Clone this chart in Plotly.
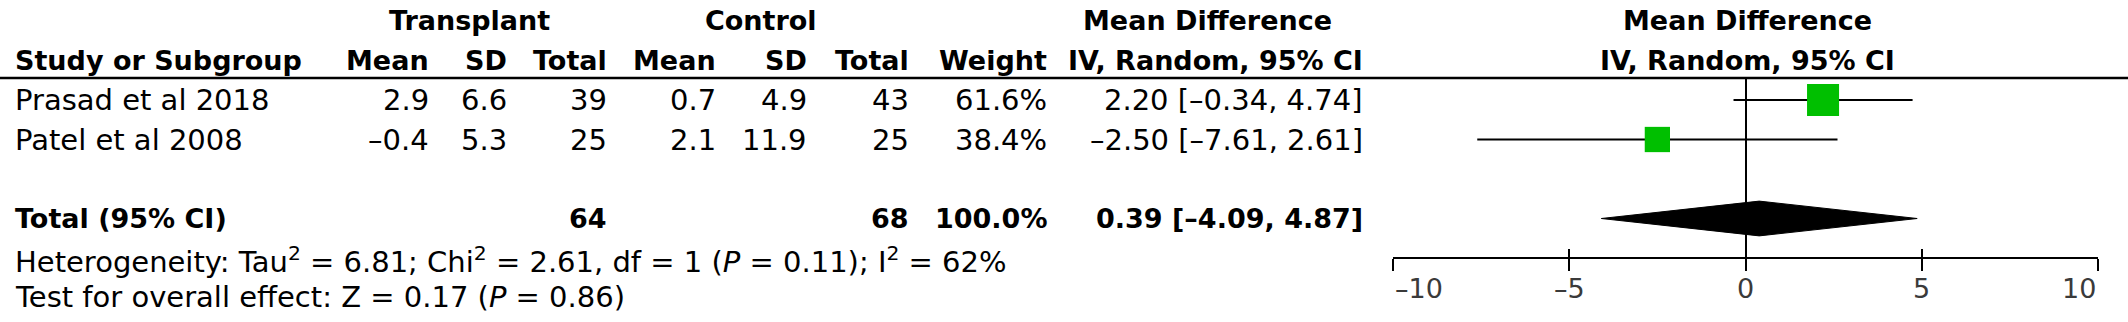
import math
import plotly.graph_objects as go

# ---- study data -------------------------------------------------------
studies = ["Prasad et al 2018", "Patel et al 2008"]
tx_mean = [2.9, -0.4]
tx_sd = [6.6, 5.3]
tx_n = [39, 25]
ct_mean = [0.7, 2.1]
ct_sd = [4.9, 11.9]
ct_n = [43, 25]
weight = [61.6, 38.4]
md = [2.20, -2.50]
ci_low = [-0.34, -7.61]
ci_high = [4.74, 2.61]

# ---- pooled result ----------------------------------------------------
total_label = "Total (95% CI)"
total_tx_n = 64
total_ct_n = 68
total_weight = 100.0
total_md = 0.39
total_low = -4.09
total_high = 4.87
heterogeneity = ("Heterogeneity: Tau<sup>2</sup> = 6.81; Chi<sup>2</sup> = 2.61, "
                 "df = 1 (<i>P</i> = 0.11); I<sup>2</sup> = 62%")
overall_effect = "Test for overall effect: Z = 0.17 (<i>P</i> = 0.86)"

axis_ticks = [-10, -5, 0, 5, 10]

# ---- geometry ----------------------------------------------------------
W, H = 2128, 322
ROW_PX = 39.5          # pixel height of one table row
ROW0_PX = 100          # pixel y of the first study row
AXIS_PX = 257          # pixel y of the forest-plot axis
RULE_PX = 78           # pixel y of the header rule
FONT = "DejaVu Sans"
FS = 29                # regular text
FS_B = 27              # bold text
FS_T = 27              # axis tick labels


def row_at(px):
    return (px - ROW0_PX) / ROW_PX


def fmt(v, d):
    return f"{v:.{d}f}".replace("-", "\u2013")


def ci_text(m, lo, hi):
    return f"{fmt(m, 2)} [{fmt(lo, 2)}, {fmt(hi, 2)}]"


study_rows = list(range(len(studies)))
total_row = 3

fig = go.Figure()

# study squares with their confidence intervals
for i in study_rows:
    fig.add_trace(go.Scatter(
        x=[md[i]], y=[i], xaxis="x2", yaxis="y2", mode="markers",
        marker=dict(symbol="square", size=4.08 * math.sqrt(weight[i]),
                    color="#00bf00", line=dict(width=0)),
        error_x=dict(type="data", symmetric=False,
                     array=[ci_high[i] - md[i]], arrayminus=[md[i] - ci_low[i]],
                     color="black", thickness=2.2, width=0),
        showlegend=False, hoverinfo="skip"))

# pooled diamond
half_h = 0.44
fig.add_trace(go.Scatter(
    x=[total_low, total_md, total_high, total_md, total_low],
    y=[total_row, total_row - half_h, total_row, total_row + half_h, total_row],
    xaxis="x2", yaxis="y2", mode="lines", fill="toself",
    fillcolor="black", line=dict(color="black", width=1),
    showlegend=False, hoverinfo="skip"))

# companion axis carrying the upward half of the tick marks
fig.add_trace(go.Scatter(x=[0], y=[total_row], xaxis="x3", yaxis="y2",
                         mode="markers", marker=dict(size=1, opacity=0),
                         showlegend=False, hoverinfo="skip"))

# ---- table text ---------------------------------------------------------
ann = []


def put(x, row, text, anchor="right", bold=False, size=None, color="black", xref="x"):
    if size is None:
        size = FS_B if bold else FS
    ann.append(dict(x=x, y=row, xref=xref, yref="y", text=f"<b>{text}</b>" if bold else text,
                    showarrow=False, xanchor=anchor, yanchor="middle",
                    font=dict(family=FONT, size=size, color=color)))


h1, h2 = row_at(20), row_at(60)
put(469, h1, "Transplant", "center", True)
put(761, h1, "Control", "center", True)
put(1207, h1, "Mean Difference", "center", True)
put(1747, h1, "Mean Difference", "center", True)

put(13, h2, "Study or Subgroup", "left", True)
cols = [431, 509, 609, 718, 809, 911, 1049, 1365]
for x, t in zip(cols, ["Mean", "SD", "Total", "Mean", "SD", "Total", "Weight",
                       "IV, Random, 95% CI"]):
    put(x, h2, t, "right", True)
put(1747, h2, "IV, Random, 95% CI", "center", True)

for i in study_rows:
    put(13, i, studies[i], "left")
    vals = [fmt(tx_mean[i], 1), fmt(tx_sd[i], 1), str(tx_n[i]),
            fmt(ct_mean[i], 1), fmt(ct_sd[i], 1), str(ct_n[i]),
            f"{weight[i]:.1f}%", ci_text(md[i], ci_low[i], ci_high[i])]
    for x, t in zip(cols, vals):
        put(x, i, t, "right")

put(13, total_row, total_label, "left", True)
put(cols[2], total_row, str(total_tx_n), "right", True)
put(cols[5], total_row, str(total_ct_n), "right", True)
put(cols[6], total_row, f"{total_weight:.1f}%", "right", True)
put(cols[7], total_row, ci_text(total_md, total_low, total_high), "right", True)

put(13, row_at(260), heterogeneity, "left")
put(13, row_at(297), overall_effect, "left")

# axis tick labels
for k, t in enumerate(axis_ticks):
    anchor = "left" if k == 0 else ("right" if k == len(axis_ticks) - 1 else "center")
    put(t, row_at(288), fmt(t, 0), anchor, size=FS_T, color="#3a3a3a", xref="x2")

# header rule across the full width
shapes = [dict(type="line", xref="paper", yref="y", x0=0, x1=1,
               y0=row_at(RULE_PX), y1=row_at(RULE_PX),
               line=dict(color="black", width=2.5))]

x2_dom = [1393 / W, 2098 / W]
y2_dom = [(H - AXIS_PX) / H, (H - RULE_PX) / H]

fig.update_layout(
    width=W, height=H, margin=dict(l=0, r=0, t=0, b=0),
    paper_bgcolor="white", plot_bgcolor="rgba(0,0,0,0)",
    showlegend=False, annotations=ann, shapes=shapes,
    xaxis=dict(range=[0, W], domain=[0, 1], visible=False, fixedrange=True),
    yaxis=dict(range=[row_at(H), row_at(0)], domain=[0, 1], visible=False,
               fixedrange=True),
    xaxis2=dict(range=[axis_ticks[0], axis_ticks[-1]], domain=x2_dom, anchor="y2",
                showgrid=False, zeroline=True, zerolinecolor="black", zerolinewidth=2,
                showline=True, linecolor="black", linewidth=2,
                ticks="outside", ticklen=12, tickwidth=2, tickcolor="black",
                tickvals=axis_ticks, showticklabels=False, fixedrange=True),
    xaxis3=dict(range=[axis_ticks[0], axis_ticks[-1]], domain=x2_dom, anchor="y2",
                overlaying="x2", showgrid=False, zeroline=False, showline=False,
                ticks="inside", ticklen=8, tickwidth=2, tickcolor="black",
                tickvals=axis_ticks, showticklabels=False, fixedrange=True),
    yaxis2=dict(range=[row_at(AXIS_PX), row_at(RULE_PX)], domain=y2_dom,
                anchor="x2", visible=False, fixedrange=True),
)

fig.write_html("out.html")
